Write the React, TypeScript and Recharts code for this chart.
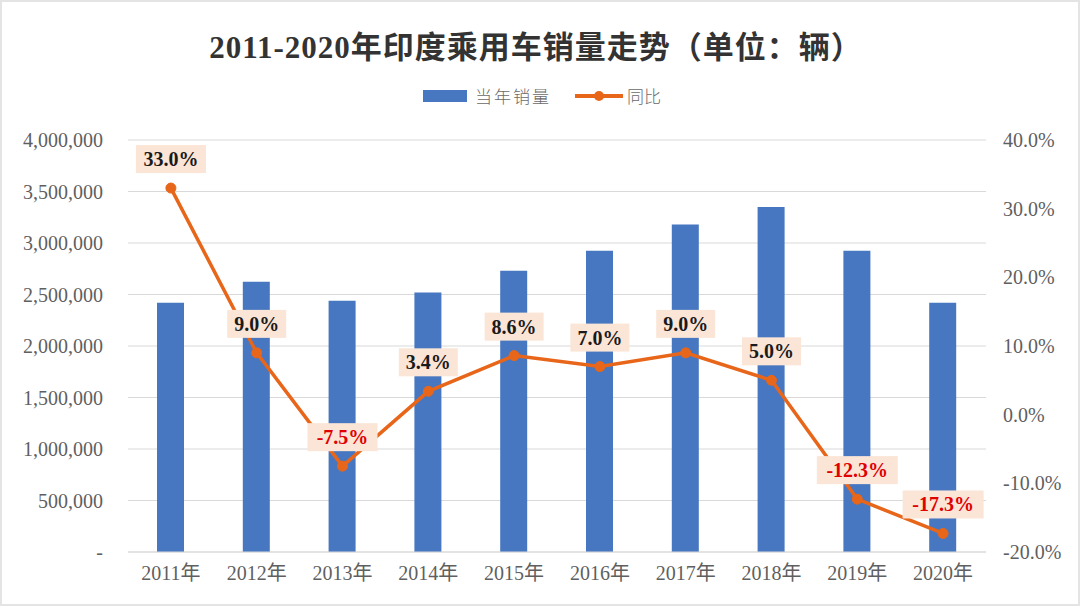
import React from "react";
import {
  ComposedChart,
  Bar,
  Line,
  XAxis,
  YAxis,
  CartesianGrid,
  LabelList,
} from "recharts";

const years = ["2011年", "2012年", "2013年", "2014年", "2015年", "2016年", "2017年", "2018年", "2019年", "2020年"];
const sales = [2420000, 2625000, 2440000, 2520000, 2730000, 2925000, 3180000, 3350000, 2925000, 2420000];
const yoy = [33.0, 9.0, -7.5, 3.4, 8.6, 7.0, 9.0, 5.0, -12.3, -17.3];
const leftTicks = [0, 500000, 1000000, 1500000, 2000000, 2500000, 3000000, 3500000, 4000000];
const rightTicks = [-20, -10, 0, 10, 20, 30, 40];

const data = years.map((year, i) => ({ year, sales: sales[i], yoy: yoy[i] }));

const SERIF = '"Liberation Serif", "DejaVu Serif", "Noto Sans CJK SC", serif';
const BLUE = "#4677C0";
const ORANGE = "#E8661A";
const AXIS_TEXT = "#5f5f5f";

const fmtLeft = (v: number) => (v === 0 ? "-" : v.toLocaleString("en-US"));
const fmtRight = (v: number) => v.toFixed(1) + "%";

function YoyLabel(props: any) {
  const { x, y, value } = props;
  if (x == null || y == null) return null;
  const text = Number(value).toFixed(1) + "%";
  const w = text.length * 11 + 15;
  const h = 28;
  const cy = y - 29;
  return (
    <g>
      <rect x={x - w / 2} y={cy - h / 2} width={w} height={h} fill="#FBE5D6" />
      <text
        x={x}
        y={cy}
        textAnchor="middle"
        dominantBaseline="central"
        fontFamily={SERIF}
        fontWeight="bold"
        fontSize={20}
        fill={value < 0 ? "#E00000" : "#1A1A1A"}
      >
        {text}
      </text>
    </g>
  );
}

export default function App() {
  return (
    <div
      style={{
        position: "absolute",
        left: 0,
        top: 0,
        width: 1080,
        height: 606,
        background: "#fff",
        boxSizing: "border-box",
        border: "2px solid #e4e4e4",
        fontFamily: SERIF,
      }}
    >
      <div
        style={{
          position: "absolute",
          top: 20,
          left: 0,
          width: 1068,
          textAlign: "center",
          fontSize: 31,
          fontWeight: "bold",
          color: "#333",
          letterSpacing: 1,
        }}
      >
        2011-2020年印度乘用车销量走势（单位：辆）
      </div>
      <div
        style={{
          position: "absolute",
          top: 81,
          left: 0,
          width: 1080,
          display: "flex",
          justifyContent: "center",
          alignItems: "center",
          fontSize: 17,
          color: "#6a6a6a",
          fontFamily: '"Noto Sans CJK SC", sans-serif',
          fontWeight: 300,
        }}
      >
        <span style={{ display: "inline-block", width: 44, height: 12, background: BLUE, marginRight: 8 }} />
        <span style={{ letterSpacing: 2, marginRight: 24 }}>当年销量</span>
        <svg width={48} height={14} style={{ marginRight: 4 }}>
          <line x1={0} y1={7} x2={48} y2={7} stroke={ORANGE} strokeWidth={4} />
          <circle cx={24} cy={7} r={5} fill={ORANGE} />
        </svg>
        <span>同比</span>
      </div>
      <ComposedChart
        width={1080}
        height={606}
        data={data}
        margin={{ top: 140, right: 0, bottom: 24, left: 0 }}
        style={{ position: "absolute", left: -2, top: -2 }}
      >
        <CartesianGrid yAxisId="left" vertical={false} stroke="#D9D9D9" strokeWidth={1.2} />
        <XAxis
          dataKey="year"
          height={30}
          axisLine={{ stroke: "#D9D9D9", strokeWidth: 1.2 }}
          tickLine={false}
          tickMargin={8}
          tick={{ fontFamily: SERIF, fontSize: 20, fill: AXIS_TEXT }}
        />
        <YAxis
          yAxisId="left"
          orientation="left"
          width={128}
          domain={[0, 4000000]}
          ticks={leftTicks}
          tickFormatter={fmtLeft}
          axisLine={false}
          tickLine={false}
          tickMargin={19}
          tick={{ fontFamily: SERIF, fontSize: 20, fill: AXIS_TEXT }}
        />
        <YAxis
          yAxisId="right"
          orientation="right"
          width={94}
          domain={[-20, 40]}
          ticks={rightTicks}
          tickFormatter={fmtRight}
          axisLine={false}
          tickLine={false}
          tickMargin={11}
          tick={{ fontFamily: SERIF, fontSize: 20, fill: AXIS_TEXT, textAnchor: "start" }}
        />
        <Bar yAxisId="left" dataKey="sales" fill={BLUE} barSize={27} isAnimationActive={false} />
        <Line
          yAxisId="right"
          dataKey="yoy"
          stroke={ORANGE}
          strokeWidth={3.5}
          dot={{ r: 5, fill: ORANGE, stroke: ORANGE, strokeWidth: 1 }}
          isAnimationActive={false}
        >
          <LabelList dataKey="yoy" content={<YoyLabel />} />
        </Line>
      </ComposedChart>
    </div>
  );
}
